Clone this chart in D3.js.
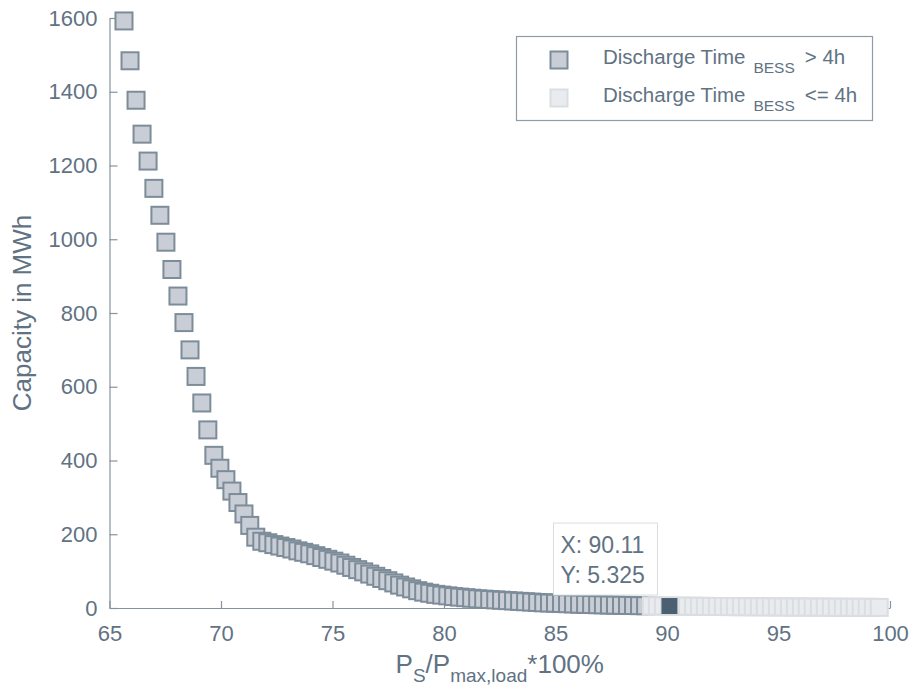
<!DOCTYPE html>
<html>
<head>
<meta charset="utf-8">
<script src="https://cdn.jsdelivr.net/npm/d3@7"></script>
<style>
  body { margin: 0; background: #fff; }
  text { font-family: "Liberation Sans", Arial, sans-serif; }
</style>
</head>
<body>
<div id="chart"></div>
<script>
// P_S / P_max,load * 100 for points with discharge time > 4h
const longX = [65.65, 65.92, 66.19, 66.46, 66.73, 66.99, 67.26, 67.53, 67.80, 68.07,
  68.34, 68.61, 68.88, 69.14, 69.41, 69.68, 69.95, 70.22, 70.49, 70.76,
  71.03, 71.29, 71.56, 71.83, 72.10, 72.37, 72.64, 72.91, 73.18, 73.45,
  73.71, 73.98, 74.25, 74.52, 74.79, 75.06, 75.33, 75.60, 75.86, 76.13,
  76.40, 76.67, 76.94, 77.21, 77.48, 77.75, 78.01, 78.28, 78.55, 78.82,
  79.09, 79.36, 79.63, 79.90, 80.17, 80.43, 80.70, 80.97, 81.24, 81.51,
  81.78, 82.05, 82.32, 82.58, 82.85, 83.12, 83.39, 83.66, 83.93, 84.20,
  84.47, 84.73, 85.00, 85.27, 85.54, 85.81, 86.08, 86.35, 86.62, 86.89,
  87.15, 87.42, 87.69, 87.96, 88.23, 88.50, 88.77, 89.04];
// capacity in MWh
const longY = [1592, 1484, 1377, 1285, 1212, 1138, 1065, 992, 918, 846,
  774, 700, 628, 556, 483, 414, 379, 348, 317, 286,
  255, 224, 192, 181, 177, 172, 168, 164, 160, 155,
  151, 147, 142, 137, 132, 127, 122, 116, 110, 104,
  98, 92, 86, 80, 74, 68, 62, 57, 52, 47,
  43, 40, 37, 35, 33, 31, 29.5, 28, 26.5, 25,
  24, 23, 22, 21, 20, 19, 18, 17, 16, 15,
  14, 13.5, 13, 12.3, 11.6, 11, 10.4, 9.9, 9.4, 8.9,
  8.5, 8.1, 7.7, 7.3, 7.0, 6.7, 6.4, 6.1];

// discharge time <= 4h
const shortX = [89.30, 89.57, 89.84, 90.11, 90.38, 90.65, 90.92, 91.19, 91.46, 91.72,
  91.99, 92.26, 92.53, 92.80, 93.07, 93.34, 93.61, 93.87, 94.14, 94.41,
  94.68, 94.95, 95.22, 95.49, 95.76, 96.03, 96.29, 96.56, 96.83, 97.10,
  97.37, 97.64, 97.91, 98.18, 98.44, 98.71, 98.98, 99.25, 99.52];
const shortY = [5.9, 5.7, 5.5, 5.325, 5.15, 5.0, 4.85, 4.7, 4.55, 4.4,
  4.25, 4.1, 3.95, 3.8, 3.7, 3.6, 3.5, 3.4, 3.3, 3.2,
  3.1, 3.0, 2.9, 2.8, 2.7, 2.6, 2.5, 2.4, 2.3, 2.25,
  2.2, 2.1, 2.0, 1.95, 1.9, 1.8, 1.75, 1.7, 1.6];

// data tip
const tipX = 90.11, tipY = 5.325;

const xTicks = [65, 70, 75, 80, 85, 90, 95, 100];
const yTicks = [0, 200, 400, 600, 800, 1000, 1200, 1400, 1600];
const legendLabels = [["Discharge Time", "BESS", "> 4h"], ["Discharge Time", "BESS", "<= 4h"]];

const width = 912, height = 690;
const textColor = "#617283", axisColor = "#8593a0";
const longFill = "#c9ced6", longStroke = "#7d8c99";
const shortFill = "#e9ebee", shortStroke = "#dadee2";

const svg = d3.select("#chart").append("svg")
    .attr("width", width)
    .attr("height", height);

const x = d3.scaleLinear().domain([65, 100]).range([109.5, 890]);
const y = d3.scaleLinear().domain([0, 1600]).range([608, 18]);

// axes, MATLAB style ticks pointing inward
const xAxis = svg.append("g")
    .attr("transform", `translate(0,${y(0)})`)
    .call(d3.axisBottom(x).tickValues(xTicks).tickSize(-7).tickSizeOuter(0).tickPadding(17));
const yAxis = svg.append("g")
    .attr("transform", `translate(${x(65)},0)`)
    .call(d3.axisLeft(y).tickValues(yTicks).tickFormat(d3.format("d")).tickSize(-8).tickSizeOuter(0).tickPadding(12));

[xAxis, yAxis].forEach(a => {
    a.select(".domain").attr("stroke", axisColor).attr("stroke-width", 1.2);
    a.selectAll(".tick line").attr("stroke", axisColor).attr("stroke-width", 1.2);
    a.selectAll(".tick text")
        .attr("fill", textColor)
        .style("font-size", "22px")
        .style("font-family", "'Liberation Sans', Arial, sans-serif");
});

// markers
const size = 17;
const longData = longX.map((v, i) => [v, longY[i]]);
const shortData = shortX.map((v, i) => [v, shortY[i]]);

svg.append("g").selectAll("rect")
    .data(longData)
    .enter().append("rect")
    .attr("x", d => x(d[0]) - size / 2)
    .attr("y", d => y(d[1]) - size / 2)
    .attr("width", size)
    .attr("height", size)
    .attr("fill", longFill)
    .attr("stroke", longStroke)
    .attr("stroke-width", 2);

svg.append("g").selectAll("rect")
    .data(shortData)
    .enter().append("rect")
    .attr("x", d => x(d[0]) - size / 2)
    .attr("y", d => y(d[1]) - size / 2)
    .attr("width", size)
    .attr("height", size)
    .attr("fill", shortFill)
    .attr("stroke", shortStroke)
    .attr("stroke-width", 2);

// highlighted data tip point
svg.append("rect")
    .attr("x", x(tipX) - 8)
    .attr("y", y(tipY) - 8)
    .attr("width", 16)
    .attr("height", 16)
    .attr("fill", "#4b5f73");

// data tip box
const tipRight = x(tipX) - 12, tipBottom = y(tipY) - 11;
svg.append("rect")
    .attr("x", tipRight - 104)
    .attr("y", tipBottom - 72)
    .attr("width", 104)
    .attr("height", 72)
    .attr("fill", "#fff")
    .attr("stroke", "#d9dde1")
    .attr("stroke-width", 1);
svg.append("text")
    .attr("x", tipRight - 97)
    .attr("y", tipBottom - 42)
    .attr("fill", textColor)
    .style("font-size", "23px")
    .text(`X: ${tipX}`);
svg.append("text")
    .attr("x", tipRight - 97)
    .attr("y", tipBottom - 12)
    .attr("fill", textColor)
    .style("font-size", "23px")
    .text(`Y: ${tipY}`);

// legend
const legend = svg.append("g");
legend.append("rect")
    .attr("x", 516.5).attr("y", 36.5)
    .attr("width", 356).attr("height", 84)
    .attr("fill", "#fff")
    .attr("stroke", "#8f9ca8")
    .attr("stroke-width", 1.2);
[[longFill, longStroke], [shortFill, shortStroke]].forEach((c, i) => {
    const cy = 60 + i * 38;
    legend.append("rect")
        .attr("x", 559 - size / 2).attr("y", cy - size / 2)
        .attr("width", size).attr("height", size)
        .attr("fill", c[0]).attr("stroke", c[1]).attr("stroke-width", 2);
    const t = legend.append("text")
        .attr("x", 603).attr("y", cy + 4)
        .attr("fill", textColor)
        .style("font-size", "20.5px");
    t.append("tspan").text(legendLabels[i][0]);
    t.append("tspan").attr("dx", 8).attr("dy", 8.5).style("font-size", "15.5px").text(legendLabels[i][1]);
    t.append("tspan").attr("dx", 10).attr("dy", -8.5).text(legendLabels[i][2]);
});

// axis titles
const xTitle = svg.append("text")
    .attr("x", (x(65) + x(100)) / 2)
    .attr("y", 673)
    .attr("text-anchor", "middle")
    .attr("fill", textColor)
    .style("font-size", "26px");
xTitle.append("tspan").text("P");
xTitle.append("tspan").attr("dy", 9).style("font-size", "19px").text("S");
xTitle.append("tspan").attr("dy", -9).text("/P");
xTitle.append("tspan").attr("dy", 9).style("font-size", "19px").text("max,load");
xTitle.append("tspan").attr("dy", -9).text("*100%");

svg.append("text")
    .attr("transform", `translate(31,${(y(0) + y(1600)) / 2}) rotate(-90)`)
    .attr("text-anchor", "middle")
    .attr("fill", textColor)
    .style("font-size", "26px")
    .text("Capacity in MWh");
</script>
</body>
</html>
